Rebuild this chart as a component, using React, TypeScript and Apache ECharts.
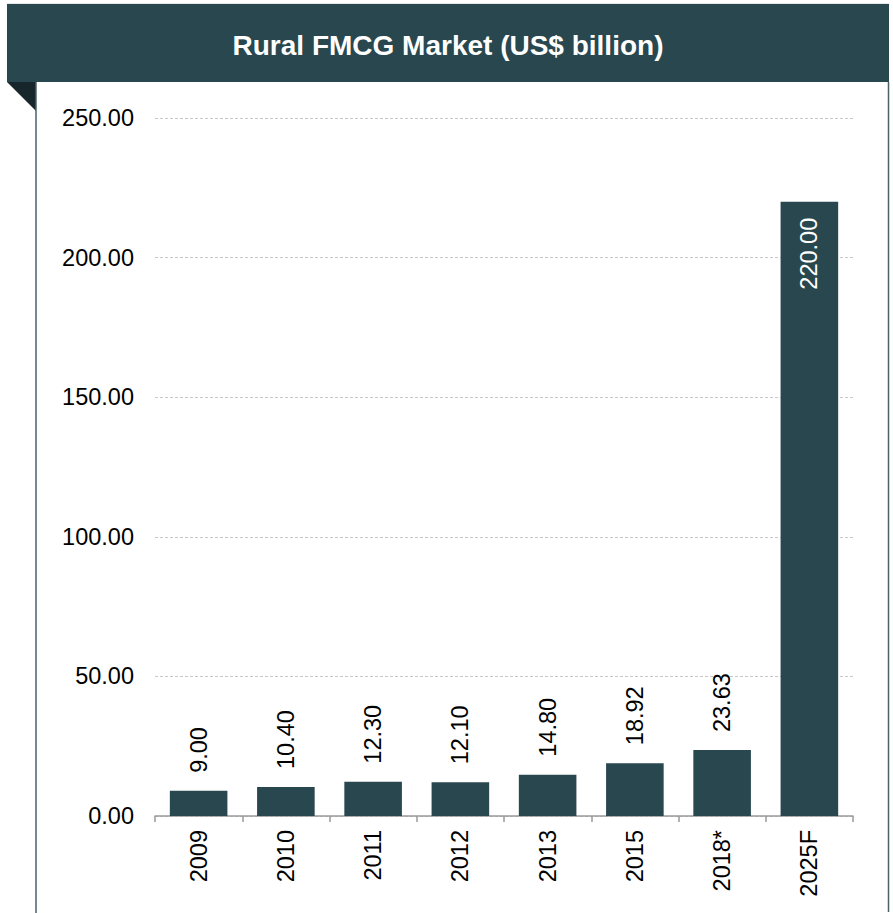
import React, { useEffect, useRef } from "react";
import * as echarts from "echarts";

const categories = ["2009", "2010", "2011", "2012", "2013", "2015", "2018*", "2025F"];
const values = [9.0, 10.4, 12.3, 12.1, 14.8, 18.92, 23.63, 220.0];
const titleText = "Rural FMCG Market (US$ billion)";

const DARK = "#29474f";
const FONT = "'Liberation Sans', Arial, sans-serif";
const FS = 23.5;

export default function App() {
  const ref = useRef<HTMLDivElement>(null);
  useEffect(() => {
    document.body.style.margin = "0";
    const chart = echarts.init(ref.current!, null, { renderer: "svg" });
    const data = values.map((v, i) => {
      if (i === values.length - 1) {
        return {
          value: v,
          label: {
            position: "insideTop",
            rotate: 90,
            align: "right",
            verticalAlign: "middle",
            distance: 16,
            color: "#ffffff",
          },
        };
      }
      return v;
    });
    chart.setOption({
      animation: false,
      backgroundColor: "#ffffff",
      graphic: [
        { type: "line", shape: { x1: 7, y1: 4, x2: 889, y2: 4 }, style: { stroke: "#c8cdd0", lineWidth: 1 } },
        { type: "rect", shape: { x: 7, y: 4, width: 882, height: 78 }, style: { fill: DARK } },
        { type: "polygon", shape: { points: [[7, 82], [36, 82], [36, 111]] }, style: { fill: "#17262a" } },
        { type: "line", shape: { x1: 36, y1: 82, x2: 36, y2: 913 }, style: { stroke: "#4a6268", lineWidth: 1.5 } },
        { type: "line", shape: { x1: 888.5, y1: 82, x2: 888.5, y2: 912 }, style: { stroke: "#4a6268", lineWidth: 1.5 } },
        {
          type: "text",
          x: 448,
          y: 45,
          style: {
            text: titleText,
            fill: "#ffffff",
            font: "bold 28px 'Liberation Sans', Arial, sans-serif",
            align: "center",
            verticalAlign: "middle",
          },
        },
      ],
      grid: { left: 155, right: 40, top: 118, bottom: 97, containLabel: false },
      xAxis: {
        type: "category",
        data: categories,
        axisLine: { show: true, lineStyle: { color: "#9a9a9a", width: 1.5 } },
        axisTick: { show: true, length: 6, lineStyle: { color: "#9a9a9a", width: 1.5 } },
        axisLabel: {
          rotate: 90,
          margin: 14,
          color: "#000000",
          fontSize: FS,
          fontFamily: FONT,
        },
      },
      yAxis: {
        type: "value",
        min: 0,
        max: 250,
        interval: 50,
        axisLine: { show: false },
        axisTick: { show: false },
        splitLine: { show: true, lineStyle: { color: "#c8c8c8", type: [3, 2], width: 1 } },
        axisLabel: {
          margin: 21,
          color: "#000000",
          fontSize: FS,
          fontFamily: FONT,
          formatter: (v: number) => v.toFixed(2),
        },
      },
      series: [
        {
          type: "bar",
          data,
          barWidth: "66%",
          itemStyle: { color: DARK },
          label: {
            show: true,
            position: "top",
            rotate: 90,
            align: "left",
            verticalAlign: "middle",
            distance: 18,
            color: "#000000",
            fontSize: FS,
            fontFamily: FONT,
            formatter: (p: any) => Number(p.value).toFixed(2),
          },
        },
      ],
    });
    return () => chart.dispose();
  }, []);
  return <div ref={ref} style={{ position: "absolute", left: 0, top: 0, width: 893, height: 913 }} />;
}
